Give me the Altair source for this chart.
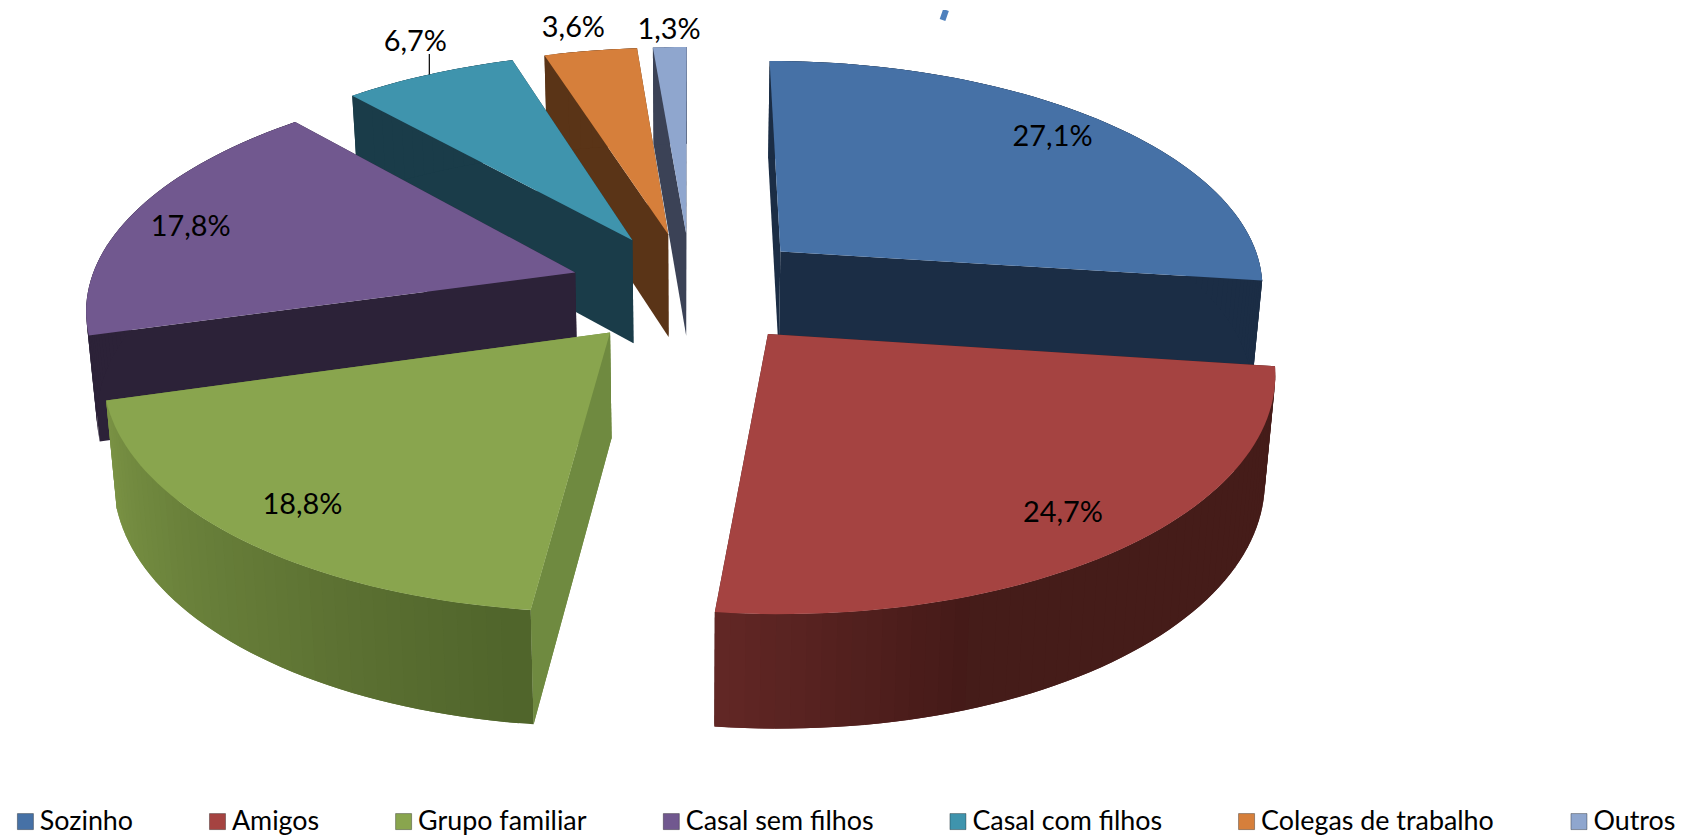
import math
import altair as alt

categories = ["Sozinho", "Amigos", "Grupo familiar", "Casal sem filhos",
              "Casal com filhos", "Colegas de trabalho", "Outros"]
shares = [27.1, 24.7, 18.8, 17.8, 6.7, 3.6, 1.3]
labels = ["27,1%", "24,7%", "18,8%", "17,8%", "6,7%", "3,6%", "1,3%"]
top_colors = ["#4671A6", "#A54341", "#89A54E", "#71588F", "#3F94AD", "#D67F3B", "#8FA6CE"]
flat_wall_colors = ["#1B2D45", "#451C19", "#6F8A40", "#2C2238", "#1A3C49", "#5A3417", "#3B4256"]

W, H = 1677, 827
F = 1685 / 1568
VX, Y0, AX, SY, K, EXPLODE = 646.0, 267.5, 455.0, 212.0, 0.14, 0.25
Q = 0.982
FONT = "Lato"


def project(x, y):
    w = 1 + K * y
    return VX + AX * x / w, Y0 - SY * y / w, w


def top_pt(mid, theta, r=1.0):
    x = r * math.sin(theta) + EXPLODE * math.sin(mid)
    y = r * math.cos(theta) + EXPLODE * math.cos(mid)
    sx, sy, _ = project(x, y)
    return [sx * F, sy * F]


def bot_pt(mid, theta, r=1.0):
    x = r * math.sin(theta) + EXPLODE * math.sin(mid)
    y = r * math.cos(theta) + EXPLODE * math.cos(mid)
    sx, sy, w = project(x, y)
    return [(VX + (sx - VX) * Q) * F, (sy + 50.6 + 47 / w) * F]


def feature(ring, **props):
    return {"type": "Feature", "properties": props,
            "geometry": {"type": "Polygon", "coordinates": [ring + [ring[0]]]}}


def hex_mix(a, b, t):
    a = [int(a[i:i + 2], 16) for i in (1, 3, 5)]
    b = [int(b[i:i + 2], 16) for i in (1, 3, 5)]
    return "#%02x%02x%02x" % tuple(round(p + (q - p) * t) for p, q in zip(a, b))


def wall_color(i, deg):
    if i == 1:
        if deg > 160:
            return hex_mix("#451A18", "#642826", (deg - 160) / 26.5)
        return "#451C19"
    if i == 2:
        return hex_mix("#50642B", "#7B9445", (deg - 186.5) / 67.7)
    return flat_wall_colors[i]


projection = dict(type="identity", scale=1, translate=[-8, -8])
layers = []
spans = []
start = 0.0
for s in shares:
    spans.append((start, start + s * 3.6))
    start += s * 3.6

for i in [6, 5, 4, 3, 0, 2, 1]:
    a0, a1 = spans[i]
    t0, t1 = math.radians(a0), math.radians(a1)
    mid = (t0 + t1) / 2
    n = max(2, int((a1 - a0) / 1.5))
    angles = [t0 + (t1 - t0) * j / n for j in range(n + 1)]
    walls = []
    # radial walls
    for t in (t1, t0):
        c = "#6F8A40" if i == 2 else flat_wall_colors[i]
        walls.append(feature([top_pt(mid, 0, 0), top_pt(mid, t), bot_pt(mid, t), bot_pt(mid, 0, 0)], c=c))
    # outer curved wall, shaded in strips that overlap the next one so no seams show
    for j in range(n - 1, -1, -1):
        p, q = angles[j], angles[min(j + 2, n)]
        c = wall_color(i, math.degrees((angles[j] + angles[j + 1]) / 2))
        walls.append(feature([top_pt(mid, p), top_pt(mid, q), bot_pt(mid, q), bot_pt(mid, p)], c=c))
    if i == 2:  # front radial wall of the green slice sits over the curved wall edge
        walls.append(feature([top_pt(mid, 0, 0), top_pt(mid, t0), bot_pt(mid, t0), bot_pt(mid, 0, 0)], c="#6F8A40"))
    layers.append(
        alt.Chart(alt.Data(values=walls)).mark_geoshape(strokeWidth=0).encode(
            fill=alt.Fill("properties.c:N", scale=None),
        ).project(**projection)
    )
    ring = [top_pt(mid, 0, 0)] + [top_pt(mid, t) for t in angles]
    layers.append(
        alt.Chart(alt.Data(values=[feature(ring, name=categories[i])])).mark_geoshape(strokeWidth=0).encode(
            fill=alt.Fill(
                "properties.name:N",
                scale=alt.Scale(domain=categories, range=top_colors),
                legend=alt.Legend(
                    title=None, orient="none", direction="horizontal", columns=7,
                    legendX=4, legendY=802, gridAlign="none",
                    symbolType="square", symbolSize=260, symbolStrokeWidth=1,
                    symbolStrokeColor="#00000055", symbolOffset=0,
                    labelFont=FONT, labelFontSize=27, labelColor="#000000",
                    labelLimit=400, labelOffset=1, columnPadding=71, padding=0,
                ),
            ),
        ).project(**projection)
    )

# leader line of the 6,7% label and the stray stroke at the top of the picture
mid5 = math.radians(sum(spans[4]) / 2)
p5 = top_pt(mid5, mid5)
leader = {"type": "Feature", "properties": {},
          "geometry": {"type": "LineString", "coordinates": [p5, [p5[0], p5[1] - 19 * F]]}}
layers.append(alt.Chart(alt.Data(values=[leader])).mark_geoshape(
    filled=False, stroke="#000000", strokeWidth=1.2).project(**projection))

stray = {"type": "Feature", "properties": {},
         "geometry": {"type": "LineString", "coordinates": [[947, 18], [950.5, 8]]}}
layers.append(alt.Chart(alt.Data(values=[stray])).mark_geoshape(
    filled=False, stroke="#4F81BD", strokeWidth=6).project(**projection))

# percentage labels, placed on the same projected disc (radius, angle offset in degrees)
label_r = [0.85, 0.85, 0.85, 0.855, 1.194, 1.145, 1.104]
label_da = [-0.8, 0.5, -0.7, -1.9, 2.6, -0.9, 0.1]
rows = []
for i, (a0, a1) in enumerate(spans):
    m = math.radians((a0 + a1) / 2)
    px, py = top_pt(m, m + math.radians(label_da[i]), label_r[i])
    rows.append({"lon": px, "lat": py, "label": labels[i]})
layers.append(
    alt.Chart(alt.Data(values=rows)).mark_text(
        font=FONT, fontSize=29, color="#000000", align="center", baseline="middle"
    ).encode(longitude="lon:Q", latitude="lat:Q", text="label:N").project(**projection)
)

chart = alt.layer(*layers).properties(
    width=W, height=H, padding=0, autosize=alt.AutoSizeParams(type="none"),
    background="#FFFFFF",
).configure_view(stroke=None)

chart.save("out.html", embed_options={"renderer": "svg", "actions": False})
